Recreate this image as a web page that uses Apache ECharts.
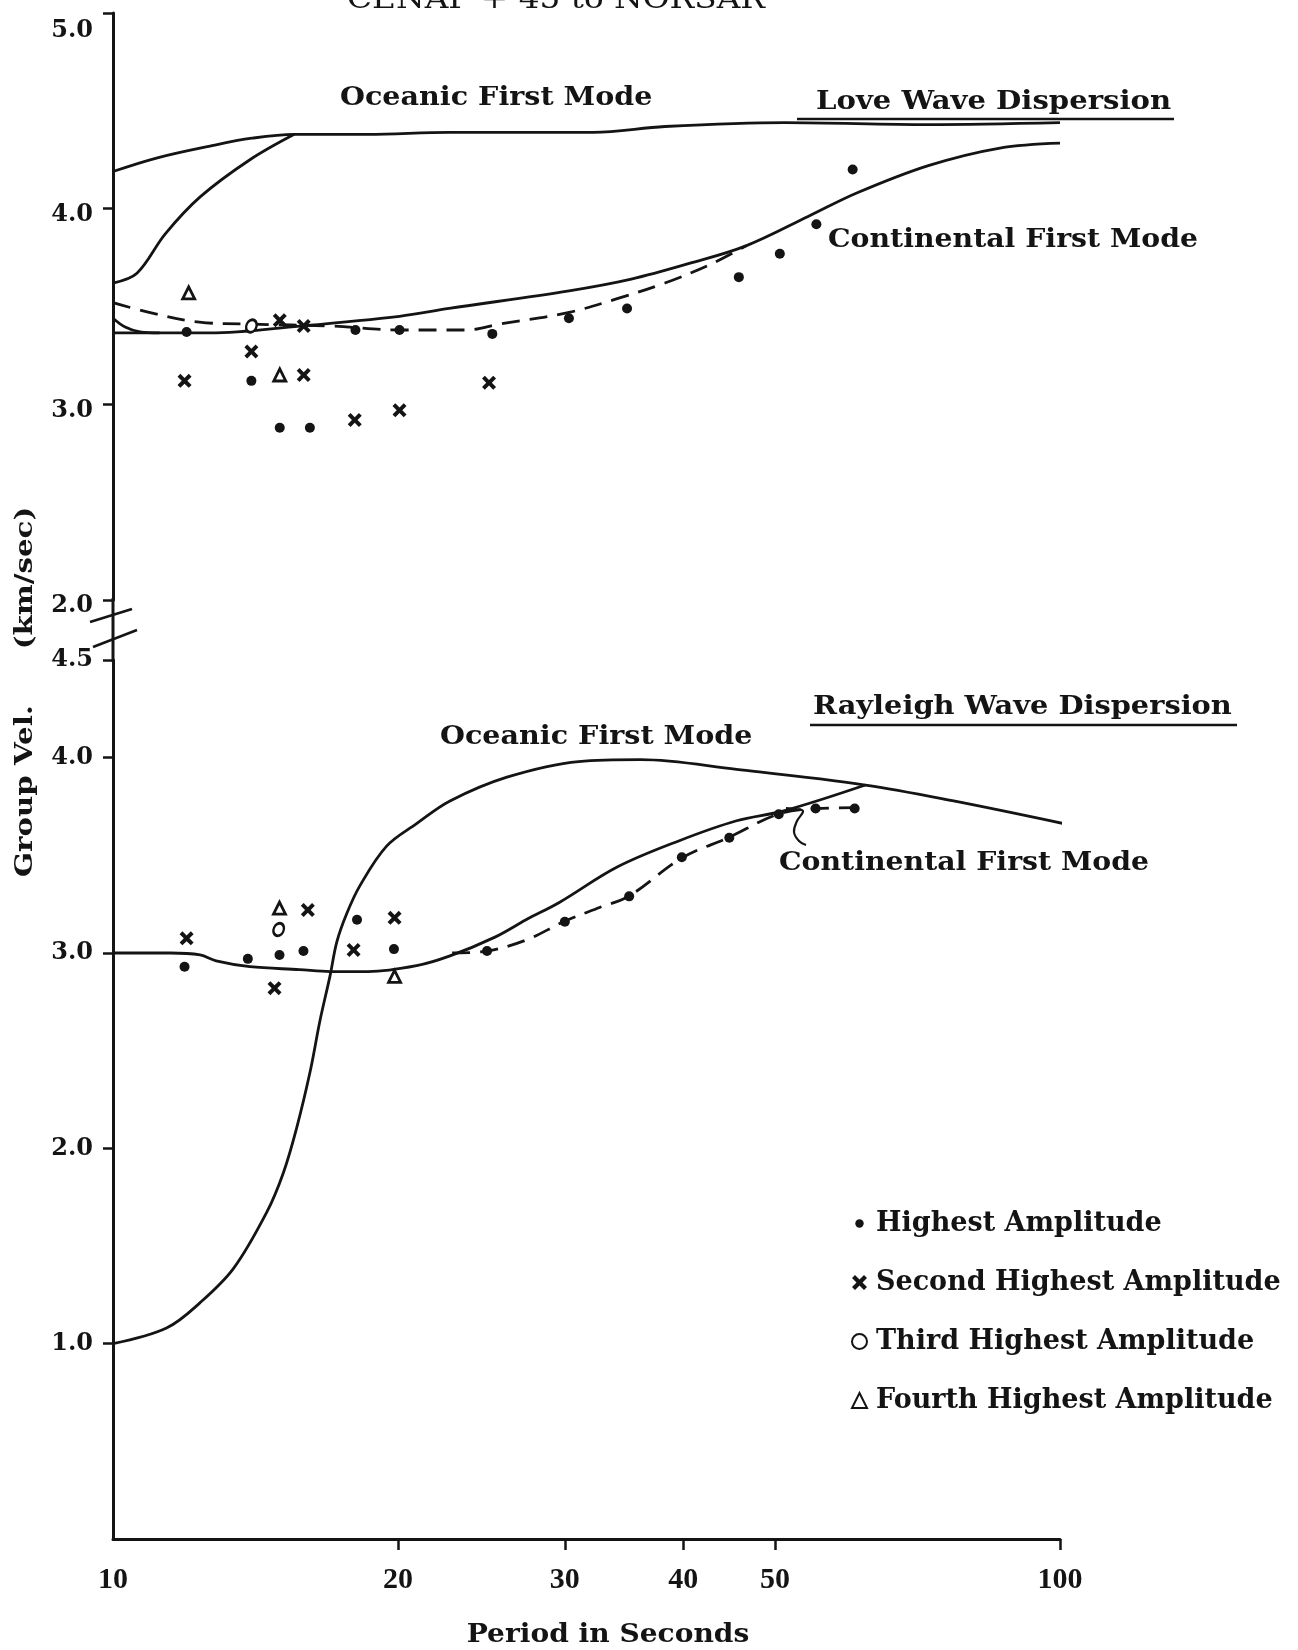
<!DOCTYPE html>
<html><head><meta charset="utf-8">
<script src="https://cdn.jsdelivr.net/npm/echarts@6/dist/echarts.min.js"></script>
<style>html,body{margin:0;padding:0;background:#fff}#c{width:1298px;height:1650px}</style>
</head><body><div id="c"></div>
<script>
// ---- axis ticks ----
const xTickValues = [20, 30, 40, 50, 100];
const xLabelValues = [10, 20, 30, 40, 50, 100];
const loveYTicks = [2, 3, 4, 5];
const rayYTicks = [1, 2, 3, 4, 4.5];

// ---- Love wave panel: [period s, group velocity km/s] ----
const loveOceanic = [[10,4.19],[11.14,4.26],[12.66,4.32],[14.02,4.36],[15.54,4.38],[18.58,4.38],[22.64,4.39],[32.15,4.39],[38.27,4.42],[51.25,4.44],[72.6,4.43],[100,4.44]];
const loveOceanicBranch = [[10,3.62],[10.6,3.67],[11.35,3.87],[12.36,4.06],[13.95,4.25],[15.54,4.38]];
const loveContinental = [[10,3.365],[12.66,3.365],[15.74,3.40],[20.07,3.45],[22.64,3.49],[30.31,3.58],[35.26,3.64],[40.6,3.72],[46.6,3.81],[54.2,3.96],[61.0,4.08],[72.6,4.22],[86.4,4.31],[100,4.335]];
const loveContinentalBranch = [[10,3.44],[10.3,3.395],[10.68,3.37],[11.2,3.365]];
const loveDashed = [[10,3.52],[10.92,3.47],[12.34,3.42],[13.93,3.41],[17.07,3.40],[20.07,3.38],[23.62,3.38],[25.6,3.41],[30.31,3.47],[34.07,3.54],[38.27,3.62],[42.95,3.72],[46.6,3.81]];
const loveHighest = [[11.96,3.37],[14.0,3.12],[15.0,2.88],[16.14,2.88],[18.03,3.38],[20.07,3.38],[25.15,3.36],[30.3,3.44],[34.9,3.49],[45.8,3.65],[50.6,3.77],[55.3,3.92],[60.4,4.20]];
const loveSecond = [[11.9,3.12],[14.0,3.27],[15.9,3.15],[18.0,2.92],[20.07,2.97],[24.95,3.11],[15.0,3.43],[15.9,3.40]];
const loveThird = [[14.0,3.40]];
const loveFourth = [[12.02,3.57],[15.0,3.15]];

// ---- Rayleigh wave panel ----
const rayOceanic = [[10,1.0],[11.39,1.08],[12.36,1.21],[13.4,1.384],[14.53,1.672],[15.13,1.874],[15.63,2.105],[16.15,2.393],[16.54,2.653],[16.95,2.883],[17.23,3.056],[17.65,3.201],[18.23,3.345],[19.45,3.547],[20.92,3.662],[22.69,3.778],[26.06,3.90],[31.02,3.98],[36.08,3.99],[45.55,3.94],[62.3,3.86],[76.96,3.78],[101.5,3.66]];
const rayContinental = [[10,3.0],[11.5,3.0],[12.36,2.99],[12.85,2.96],[13.95,2.93],[15.74,2.915],[16.95,2.905],[18.6,2.905],[20.92,2.935],[22.69,2.985],[25.28,3.08],[27.3,3.17],[29.63,3.26],[34.07,3.44],[39.63,3.575],[45.55,3.677],[51.2,3.729],[62.3,3.86]];
const rayDashed = [[22.81,3.0],[24.83,3.01],[27.3,3.066],[30.0,3.163],[32.65,3.233],[35.08,3.292],[39.87,3.486],[44.75,3.593],[50.47,3.712],[55.2,3.739],[60.7,3.744]];
const rayHighest = [[11.9,2.93],[13.88,2.97],[14.99,2.99],[15.89,3.01],[18.1,3.17],[19.8,3.02],[24.83,3.01],[30.0,3.16],[35.08,3.29],[39.87,3.49],[44.75,3.59],[50.47,3.71],[55.2,3.74],[60.7,3.74]];
const raySecond = [[11.96,3.075],[14.81,2.82],[16.06,3.22],[17.95,3.015],[19.83,3.18]];
const rayThird = [[14.96,3.12]];
const rayFourth = [[14.99,3.23],[19.83,2.88]];

const INK = '#141414';
const SERIF = 'DejaVu Serif';
const XPATH = 'path://M2,0L5,3L8,0L10,2L7,5L10,8L8,10L5,7L2,10L0,8L3,5L0,2Z';

function curve(data, gi, dashed) {
  return {type:'line', xAxisIndex:gi, yAxisIndex:gi, data:data, smooth:0.35, showSymbol:false, symbol:'none',
    clip:false, silent:true, z:2,
    lineStyle:{color:INK, width:2.8, type: dashed ? [18,10] : 'solid'}};
}
function pts(name, data, gi) {
  const base = {type:'scatter', name:name, xAxisIndex:gi, yAxisIndex:gi, data:data, z:5};
  if (name === 'Highest Amplitude') return Object.assign(base, {symbol:'circle', symbolSize:10, itemStyle:{color:INK, opacity:1}});
  if (name === 'Second Highest Amplitude') return Object.assign(base, {symbol:XPATH, symbolSize:14, itemStyle:{color:INK, opacity:1}});
  if (name === 'Third Highest Amplitude') return Object.assign(base, {symbol:'circle', symbolSize:[10,13], symbolRotate:-25, itemStyle:{color:'#fff', borderColor:INK, borderWidth:2.6, opacity:1}});
  return Object.assign(base, {symbol:'triangle', symbolSize:12, itemStyle:{color:'#fff', borderColor:INK, borderWidth:2.8, opacity:1}});
}
function label(text, x, y, opts) {
  opts = opts || {};
  return {type:'text', x:x, y:y, scaleX:opts.sx || 1.1, rotation:opts.rot || 0,
    style:{text:text, fontFamily:SERIF, fontSize:opts.fs || 26, fontWeight:opts.fw || 'bold', fill:INK,
      align:opts.align || 'left', verticalAlign:'middle'}};
}

const axisLine = {show:true, lineStyle:{color:INK, width:3}};
const yLabelFont = {fontFamily:SERIF, fontWeight:'bold', fontSize:24, color:INK, margin:20};

const option = {
  animation:false,
  backgroundColor:'#ffffff',
  grid:[
    {left:113, top:13, width:947, height:587},
    {left:113, top:660, width:947, height:879}
  ],
  xAxis:[
    {gridIndex:0, type:'log', logBase:10, min:10, max:100, axisLine:{show:false}, axisTick:{show:false}, axisLabel:{show:false}, splitLine:{show:false}},
    {gridIndex:1, type:'log', logBase:10, min:10, max:100, axisLine:axisLine,
     axisTick:{show:true, customValues:xTickValues, length:11, lineStyle:{color:INK, width:2.5}},
     axisLabel:{customValues:xLabelValues, fontFamily:'Liberation Serif', fontWeight:'bold', fontSize:30, color:INK, margin:26},
     splitLine:{show:false}, minorTick:{show:false}}
  ],
  yAxis:[
    {gridIndex:0, type:'value', min:2, max:5, axisLine:axisLine,
     axisTick:{show:true, customValues:loveYTicks, length:10, lineStyle:{color:INK, width:2.5}},
     axisLabel:Object.assign({customValues:loveYTicks, padding:[12,0,0,0],
       formatter:v => v === 5 ? '{t|5.0}' : v.toFixed(1),
       rich:{t:{fontFamily:SERIF, fontWeight:'bold', fontSize:24, color:INK, padding:[24,0,0,0]}}}, yLabelFont),
     splitLine:{show:false}},
    {gridIndex:1, type:'value', min:0, max:4.5, axisLine:axisLine,
     axisTick:{show:true, customValues:rayYTicks, length:10, lineStyle:{color:INK, width:2.5}},
     axisLabel:Object.assign({customValues:rayYTicks, padding:[4,0,0,0], formatter:v => v.toFixed(1)}, yLabelFont),
     splitLine:{show:false}}
  ],
  legend:{
    orient:'vertical', left:846, top:1203, itemGap:28, itemWidth:15, itemHeight:15, selectedMode:false,
    data:[
      {name:'Highest Amplitude', icon:'path://M0,0M16,16M8,3.5A4.5,4.5,0,1,1,7.99,3.5Z'},
      'Second Highest Amplitude','Third Highest Amplitude','Fourth Highest Amplitude'],
    textStyle:{fontFamily:SERIF, fontWeight:'bold', fontSize:27, color:INK, lineHeight:31, padding:[0,0,0,4]}
  },
  graphic:[
    {type:'line', shape:{x1:113, y1:598, x2:113, y2:662}, style:{stroke:INK, lineWidth:3}},
    {type:'line', shape:{x1:90, y1:622, x2:132, y2:609}, style:{stroke:INK, lineWidth:2.5}},
    {type:'line', shape:{x1:93, y1:647, x2:137, y2:630}, style:{stroke:INK, lineWidth:2.5}},
    label('CENAP + 45 to NORSAR', 556, 1, {fw:'normal', fs:28, sx:1.17, align:'center'}),
    label('Oceanic First Mode', 340, 98),
    label('Love Wave Dispersion', 816, 102, {sx:1.12}),
    {type:'line', shape:{x1:797, y1:119, x2:1174, y2:119}, style:{stroke:INK, lineWidth:2.5}},
    label('Continental First Mode', 828, 240, {sx:1.09}),
    label('Oceanic First Mode', 440, 737),
    label('Rayleigh Wave Dispersion', 813, 707, {sx:1.11}),
    {type:'line', shape:{x1:810, y1:725, x2:1237, y2:725}, style:{stroke:INK, lineWidth:2.5}},
    label('Continental First Mode', 779, 863, {sx:1.09}),
    {type:'polyline', shape:{points:[[786,808],[796,809],[803,811],[797,821],[794,832],[799,841],[806,845]], smooth:0.4}, style:{stroke:INK, lineWidth:2.2, fill:null}},
    label('Group Vel.', 26, 791, {rot:Math.PI/2, fs:24, sx:1.22, align:'center'}),
    label('(km/sec)', 26, 578, {rot:Math.PI/2, fs:24, sx:1.22, align:'center'}),
    label('Period in Seconds', 608, 1635, {fs:26, sx:1.08, align:'center'})
  ],
  series:[
    curve(loveOceanic,0), curve(loveOceanicBranch,0), curve(loveContinental,0), curve(loveContinentalBranch,0), curve(loveDashed,0,true),
    pts('Highest Amplitude', loveHighest, 0), pts('Second Highest Amplitude', loveSecond, 0),
    pts('Third Highest Amplitude', loveThird, 0), pts('Fourth Highest Amplitude', loveFourth, 0),
    curve(rayOceanic,1), curve(rayContinental,1), curve(rayDashed,1,true),
    pts('Highest Amplitude', rayHighest, 1), pts('Second Highest Amplitude', raySecond, 1),
    pts('Third Highest Amplitude', rayThird, 1), pts('Fourth Highest Amplitude', rayFourth, 1)
  ]
};
echarts.init(document.getElementById('c'), null, {renderer:'canvas'}).setOption(option);
</script></body></html>
